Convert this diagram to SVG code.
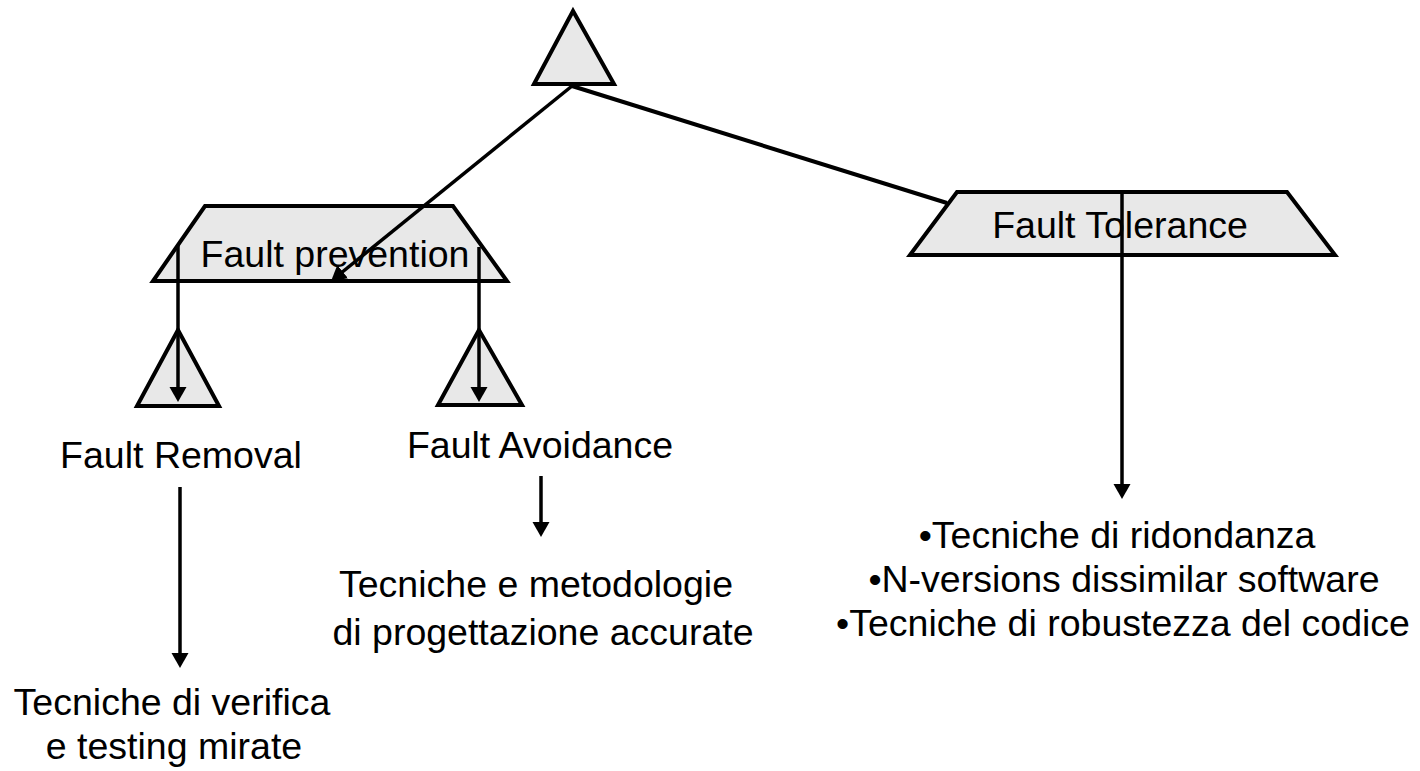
<svg xmlns="http://www.w3.org/2000/svg" width="1420" height="771" viewBox="0 0 1420 771">
  <style>
    .shape { fill: #e8e8e8; stroke: #000; stroke-width: 4; stroke-linejoin: miter; }
    .link { stroke: #000; stroke-width: 4; fill: none; }
    .arrow { stroke: #000; stroke-width: 3.5; fill: none; marker-end: url(#head); }
    text { font-family: "Liberation Sans", Arial, sans-serif; font-size: 37.5px; fill: #000; text-anchor: middle; }
  </style>
  <defs>
    <marker id="head" markerUnits="userSpaceOnUse" markerWidth="18" markerHeight="18" refX="6" refY="8.5" orient="auto">
      <path d="M0,0 L15,8.5 L0,17 z" fill="#000"/>
    </marker>
  </defs>

  <rect width="1420" height="771" fill="#fff"/>

  <!-- root -->
  <g id="root">
    <polygon class="shape" points="573,11 534,84 614,84"/>
  </g>

  <!-- fault prevention -->
  <g id="fault-prevention">
    <polygon class="shape" points="205,206 453,206 507,281 153,281"/>
    <text x="335" y="267">Fault prevention</text>
  </g>

  <!-- fault tolerance -->
  <g id="fault-tolerance">
    <polygon class="shape" points="957,192 1287,192 1335,255 910,255"/>
    <text x="1120" y="238">Fault Tolerance</text>
  </g>

  <!-- fault removal -->
  <g id="fault-removal">
    <polygon class="shape" points="178,330 137,406 219,406"/>
    <text x="181" y="468">Fault Removal</text>
  </g>

  <!-- fault avoidance -->
  <g id="fault-avoidance">
    <polygon class="shape" points="479,330 438,405 522,405"/>
    <text x="540" y="458">Fault Avoidance</text>
  </g>

  <!-- techniques -->
  <g id="removal-techniques">
    <text x="172" y="715">Tecniche di verifica</text>
    <text x="174" y="759">e testing mirate</text>
  </g>

  <g id="avoidance-techniques">
    <text x="536" y="597">Tecniche e metodologie</text>
    <text x="543" y="645">di progettazione accurate</text>
  </g>

  <g id="tolerance-techniques">
    <text x="1117" y="548">•Tecniche di ridondanza</text>
    <text x="1124" y="592">•N-versions dissimilar software</text>
    <text x="1123" y="636">•Tecniche di robustezza del codice</text>
  </g>

  <!-- connectors -->
  <g id="connectors">
    <line class="link" x1="572" y1="86" x2="947" y2="203"/>
    <line class="arrow" x1="572" y1="86" x2="338" y2="275.5"/>
    <line class="arrow" x1="178" y1="245" x2="178" y2="393"/>
    <line class="arrow" x1="479" y1="247" x2="479" y2="393"/>
    <line class="arrow" x1="1122" y1="192" x2="1122" y2="490"/>
    <line class="arrow" x1="180" y1="487" x2="180" y2="659"/>
    <line class="arrow" x1="541" y1="476" x2="541" y2="528"/>
  </g>
</svg>
